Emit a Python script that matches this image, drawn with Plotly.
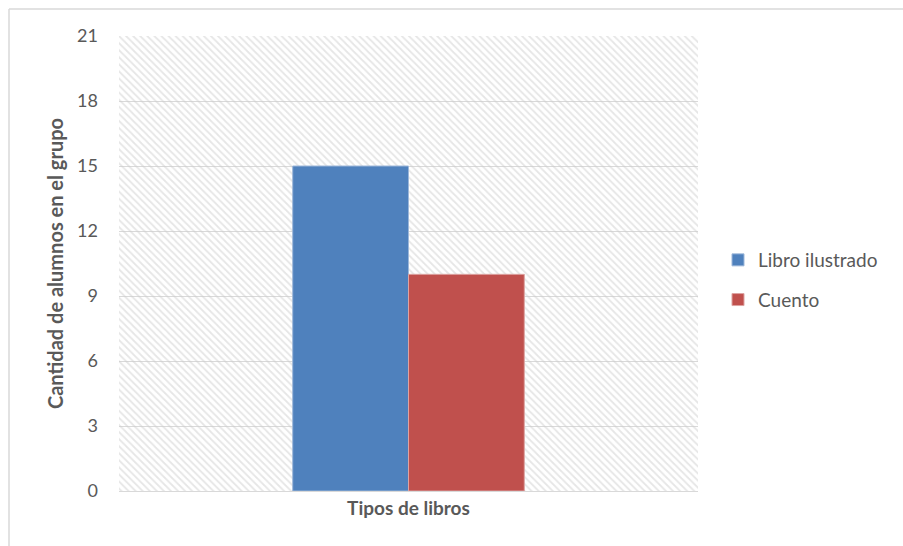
import plotly.graph_objects as go

categories = ["Tipos de libros"]
series_names = ["Libro ilustrado", "Cuento"]
libro_ilustrado = [15]
cuento = [10]
y_ticks = [0, 3, 6, 9, 12, 15, 18, 21]
colors = ["#4F81BD", "#C0504D"]
outlines = ["#9DB7D9", "#DDA3A2"]

W, H = 903, 546
L, R, T, B = 119, 205, 36, 55
pw, ph = W - L - R, H - T - B
FONT = "Lato, 'Open Sans', sans-serif"
GRAY = "#595959"

fig = go.Figure()

# hatched plot-area background
fig.add_trace(go.Bar(
    x=[0.5], y=[max(y_ticks)], width=[1], base=[0],
    xaxis="x", yaxis="y",
    marker=dict(color="rgba(0,0,0,0)", line=dict(width=0),
                pattern=dict(shape="\\", fgcolor="#cdcdcd", bgcolor="rgba(0,0,0,0)",
                             size=5, solidity=0.35)),
    showlegend=False, hoverinfo="skip",
))

for name, vals, c, oc in zip(series_names, [libro_ilustrado, cuento], colors, outlines):
    fig.add_trace(go.Bar(
        x=categories, y=vals, name=name, xaxis="x2", yaxis="y", legendgroup=name,
        marker=dict(color=c, line=dict(color=oc, width=1)),
    ))

px2x = lambda px: (px - L) / pw
py2y = lambda py: (H - B - py) / ph

fig.update_layout(
    width=W, height=H,
    margin=dict(l=L, r=R, t=T, b=B),
    paper_bgcolor="white", plot_bgcolor="white",
    barmode="group", bargap=0.6, bargroupgap=0,
    font=dict(family=FONT, color=GRAY, size=18),
    xaxis=dict(range=[0, 1], visible=False, fixedrange=True),
    xaxis2=dict(overlaying="x", side="bottom", type="category",
                showgrid=False, showline=True, linecolor="#d9d9d9", linewidth=1,
                ticks="", tickfont=dict(size=19, color=GRAY, family=FONT),
                tickprefix="<b>", ticksuffix="</b>"),
    yaxis=dict(range=[0, 21], tickvals=y_ticks, showgrid=True, gridcolor="#d9d9d9",
               gridwidth=1, zeroline=False, showline=False, ticks="",
               ticklabelstandoff=20,
               tickfont=dict(size=18, color=GRAY),
               title=dict(text="<b>Cantidad de alumnos en el grupo</b>",
                          font=dict(size=20, color=GRAY), standoff=8)),
    legend=dict(x=px2x(718), y=py2y(241), xanchor="left", yanchor="top",
                font=dict(size=19, color=GRAY), tracegroupgap=12,
                itemwidth=30, bgcolor="rgba(0,0,0,0)", traceorder="grouped"),
    shapes=[
        dict(type="line", xref="paper", yref="paper", x0=px2x(9), x1=px2x(W + 5),
             y0=py2y(9), y1=py2y(9), line=dict(color="#d9d9d9", width=1.5)),
        dict(type="line", xref="paper", yref="paper", x0=px2x(9), x1=px2x(9),
             y0=py2y(9), y1=py2y(H + 5), line=dict(color="#d9d9d9", width=1.5)),
    ],
)

fig.write_html("out.html", config={"displayModeBar": False},
               post_script="document.body.style.margin='0';")
